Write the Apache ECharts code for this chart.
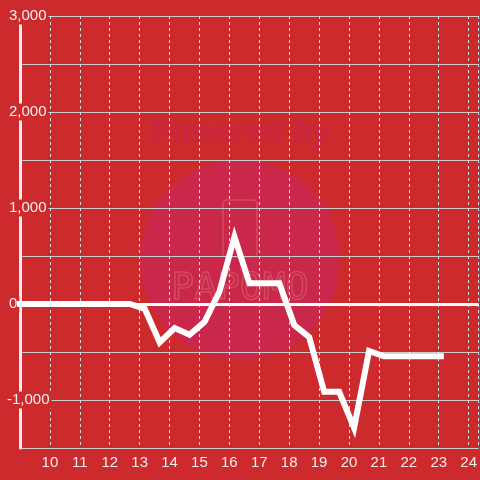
<!DOCTYPE html>
<html>
<head>
<meta charset="utf-8">
<script src="https://cdn.jsdelivr.net/npm/echarts@6/dist/echarts.min.js"></script>
<style>
  html, body { margin: 0; padding: 0; background: #cd2a2e; }
  #chart { width: 480px; height: 480px; }
</style>
</head>
<body>
<div id="chart"></div>
<script>
// hour of day (half hour steps)
const hours = [8.67, 9.17, 9.67, 10.17, 10.67, 11.17, 11.67, 12.17, 12.67, 13.17,
  13.67, 14.17, 14.67, 15.17, 15.67, 16.17, 16.67, 17.17, 17.67, 18.17,
  18.67, 19.17, 19.67, 20.17, 20.67, 21.17, 21.67, 22.17, 22.67, 23.17];
const values = [0, 0, 0, 0, 0, 0, 0, 0, 0, -50,
  -400, -250, -320, -185, 130, 700, 215, 215, 215, -220,
  -345, -915, -915, -1290, -490, -545, -545, -545, -545, -545];
const yLabelValues = [-1000, 0, 1000, 2000, 3000];

const bg = '#cd2a2e';

function formatY(v) {
  if (yLabelValues.indexOf(v) < 0) return '';
  // negative labels start a bit further left
  let style = v < 0 ? 'n' : 'b';
  return '{' + style + '|' + v.toLocaleString('en-US') + '}';
}

let chart = echarts.init(document.getElementById('chart'));
let option = {
  backgroundColor: bg,
  animation: false,
  textStyle: { fontFamily: 'Liberation Sans, Arial, sans-serif' },
  grid: { left: 20, right: 0, top: 16, bottom: 32 },
  graphic: [
    { type: 'circle', z: -10, shape: { cx: 240, cy: 260, r: 100 }, style: { fill: '#c9284a' } },
    { type: 'text', z: -9, x: 240, y: 133,
      style: { text: 'Powered by', fill: '#c82742', font: 'italic bold 32px Liberation Sans, Arial, sans-serif',
        align: 'center', verticalAlign: 'middle' } },
    { type: 'rect', z: -9, shape: { x: 223, y: 200, width: 34, height: 57, r: 4 },
      style: { fill: 'none', stroke: '#d44a62', lineWidth: 1.5 } },
    { type: 'text', z: -9, x: 240, y: 289,
      style: { text: 'PAPOMO', fill: 'none', stroke: '#d44a62', lineWidth: 1.5,
        font: '38px DejaVu Sans Mono, monospace', align: 'center', verticalAlign: 'middle' } }
  ],
  xAxis: {
    type: 'value',
    min: 9,
    max: 24.334,
    interval: 1,
    axisLine: { onZero: false, show: false },
    axisTick: { show: false },
    axisLabel: {
      color: '#eeeeee', fontSize: 15, margin: 7,
      showMinLabel: false, showMaxLabel: false,
      formatter: v => (Number.isInteger(v) ? String(v) : '')
    },
    splitLine: { show: true, lineStyle: { color: '#dddddd', width: 1, type: [3, 3] } }
  },
  yAxis: {
    type: 'value',
    min: -1500,
    max: 3000,
    interval: 500,
    axisLine: { show: true, lineStyle: { color: '#eeeeee', width: 3 } },
    axisTick: { show: false },
    axisLabel: {
      color: '#eeeeee', fontSize: 15, margin: 13, align: 'left',
      formatter: formatY,
      rich: {
        b: { color: '#eeeeee', fontSize: 15, backgroundColor: bg, padding: [1, 2] },
        n: { color: '#eeeeee', fontSize: 15, backgroundColor: bg, padding: [1, 2, 1, 0], align: 'left' }
      }
    },
    splitLine: { show: true, lineStyle: { color: '#cccccc', width: 1 } }
  },
  series: [{
    type: 'line',
    data: hours.map((h, i) => [h, values[i]]),
    showSymbol: false,
    symbol: 'none',
    clip: true,
    lineStyle: { color: '#ffffff', width: 6, join: 'miter' },
    markLine: {
      silent: true,
      symbol: 'none',
      label: { show: false },
      lineStyle: { color: '#ffffff', width: 3, type: 'solid' },
      data: [{ yAxis: 0 }]
    }
  }]
};
chart.setOption(option);
</script>
</body>
</html>
